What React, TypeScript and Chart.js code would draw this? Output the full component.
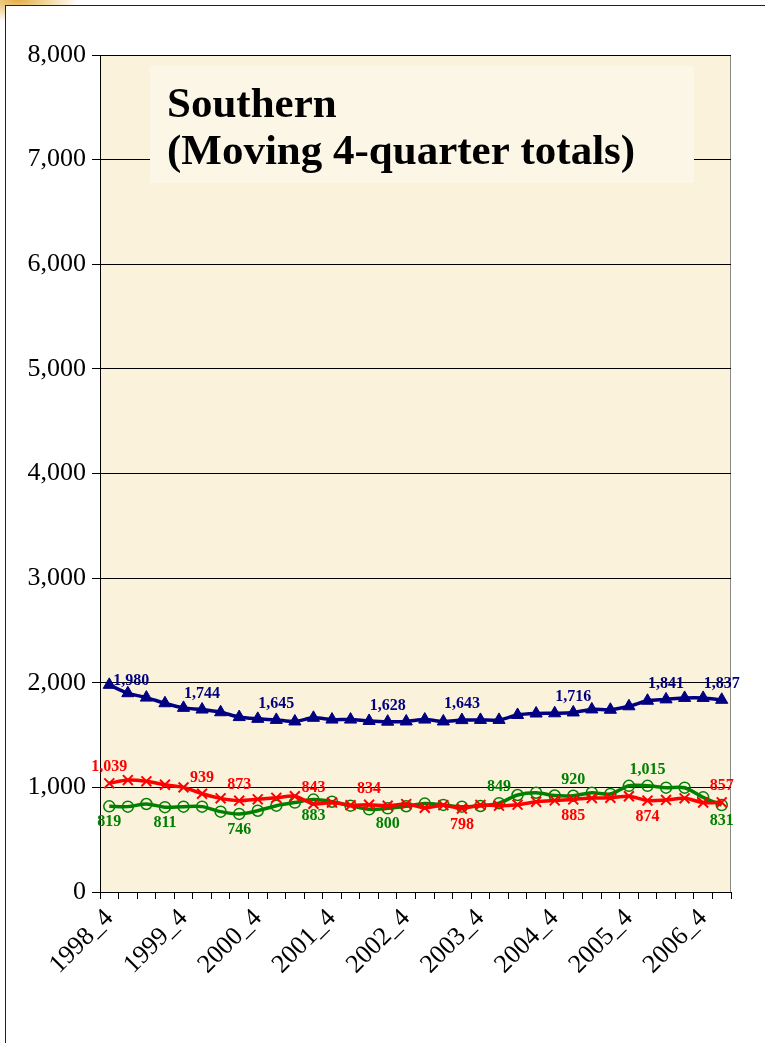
import React, { useEffect, useRef } from 'react';
import { Chart, registerables } from 'chart.js';

Chart.register(...registerables);

const SERIF = "'Liberation Serif', 'Times New Roman', serif";

const quarters = [
  '1998_4', '1999_1', '1999_2', '1999_3', '1999_4', '2000_1', '2000_2', '2000_3',
  '2000_4', '2001_1', '2001_2', '2001_3', '2001_4', '2002_1', '2002_2', '2002_3',
  '2002_4', '2003_1', '2003_2', '2003_3', '2003_4', '2004_1', '2004_2', '2004_3',
  '2004_4', '2005_1', '2005_2', '2005_3', '2005_4', '2006_1', '2006_2', '2006_3',
  '2006_4', '2007_1',
];

const blueSeries = [
  1980, 1900, 1858, 1804, 1760, 1744, 1718, 1672, 1655, 1645, 1630, 1665,
  1648, 1648, 1635, 1628, 1630, 1648, 1630, 1643, 1645, 1645, 1692, 1706,
  1708, 1716, 1745, 1742, 1775, 1828, 1841, 1855, 1855, 1837,
];

const redSeries = [
  1039, 1070, 1058, 1025, 1000, 939, 895, 873, 886, 900, 915, 843,
  855, 830, 834, 825, 840, 805, 830, 798, 832, 825, 835, 862,
  875, 885, 898, 900, 915, 874, 880, 895, 855, 857,
];

const greenSeries = [
  819, 816, 841, 811, 816, 816, 768, 746, 777, 825, 855, 883,
  863, 825, 790, 800, 820, 845, 832, 816, 822, 849, 927, 949,
  922, 920, 949, 937, 1015, 1015, 997, 997, 905, 831,
];

const blueLabelIdx = [0, 5, 9, 15, 19, 25, 30, 33];
const redLabelIdx = [0, 5, 7, 11, 14, 19, 25, 29, 33];
const greenLabelIdx = [0, 3, 7, 11, 15, 21, 25, 29, 33];

const yMin = 0;
const yMax = 8000;
const yStep = 1000;

const titleLines = ['Southern', '(Moving 4-quarter totals)'];

const fmt = (v: number) => Number(v).toLocaleString('en-US');

const backgroundPlugin = {
  id: 'parchment',
  beforeDraw(chart: any) {
    const { ctx, chartArea } = chart;
    if (!chartArea) return;
    const { left, top, right, bottom } = chartArea;
    ctx.save();
    ctx.fillStyle = '#FBF2DC';
    ctx.fillRect(left, top, right - left, bottom - top);
    ctx.strokeStyle = '#8a8a8a';
    ctx.lineWidth = 1;
    ctx.strokeRect(left + 0.5, top + 0.5, right - left - 1, bottom - top);
    ctx.restore();
  },
};

const titlePlugin = {
  id: 'titleBox',
  beforeDatasetsDraw(chart: any) {
    const { ctx, chartArea } = chart;
    const { left, top } = chartArea;
    ctx.save();
    ctx.fillStyle = '#FCF6E6';
    ctx.fillRect(left + 50, top + 11, 544, 117);
    ctx.fillStyle = '#000';
    ctx.font = 'bold 43px ' + SERIF;
    ctx.textAlign = 'left';
    ctx.textBaseline = 'alphabetic';
    ctx.fillText(titleLines[0], left + 67, top + 62);
    ctx.fillText(titleLines[1], left + 67, top + 109);
    ctx.restore();
  },
};

const labelPlugin = {
  id: 'pointValueLabels',
  afterDatasetsDraw(chart: any) {
    const ctx = chart.ctx;
    chart.data.datasets.forEach((ds: any, di: number) => {
      const meta = chart.getDatasetMeta(di);
      const idx: number[] = ds.labelIdx || [];
      const sides: string[] = ds.labelSides || [];
      ctx.save();
      ctx.font = 'bold 16px ' + SERIF;
      ctx.fillStyle = ds.borderColor;
      idx.forEach((i, k) => {
        const pt = meta.data[i];
        if (!pt) return;
        const text = fmt(ds.data[i]);
        const side = sides[k] || 'above';
        let x = pt.x;
        let y = pt.y;
        ctx.textBaseline = 'middle';
        if (side === 'right') {
          ctx.textAlign = 'left';
          x += 4;
          y -= 4;
        } else if (side === 'below') {
          ctx.textAlign = 'center';
          y += 16;
        } else {
          ctx.textAlign = 'center';
          y -= 16;
        }
        ctx.fillText(text, x, y);
      });
      ctx.restore();
    });
  },
};

export default function App() {
  const canvasRef = useRef<HTMLCanvasElement | null>(null);

  useEffect(() => {
    const prevOverflow = document.body.style.overflow;
    document.body.style.overflow = 'hidden';
    const canvas = canvasRef.current;
    if (!canvas) return;
    const chart = new Chart(canvas, {
      type: 'line',
      data: {
        labels: quarters,
        datasets: [
          {
            label: 'Blue',
            data: blueSeries,
            borderColor: '#000080',
            backgroundColor: '#000080',
            borderWidth: 3.5,
            pointStyle: 'triangle',
            pointRadius: 7,
            pointBackgroundColor: '#000080',
            pointBorderColor: '#000080',
            pointBorderWidth: 1,
            tension: 0.3,
            order: 1,
            labelIdx: blueLabelIdx,
            labelSides: ['right', 'above', 'above', 'above', 'above', 'above', 'above', 'above'],
          } as any,
          {
            label: 'Red',
            data: redSeries,
            borderColor: '#FF0000',
            backgroundColor: '#FF0000',
            borderWidth: 3.5,
            pointStyle: 'crossRot',
            pointRadius: 7,
            pointBorderColor: '#FF0000',
            pointBorderWidth: 2,
            tension: 0.3,
            order: 2,
            labelIdx: redLabelIdx,
            labelSides: ['above', 'above', 'above', 'above', 'above', 'below', 'below', 'below', 'above'],
          } as any,
          {
            label: 'Green',
            data: greenSeries,
            borderColor: '#008000',
            backgroundColor: 'rgba(0,0,0,0)',
            borderWidth: 3.5,
            pointStyle: 'circle',
            pointRadius: 5.5,
            pointBackgroundColor: 'rgba(0,0,0,0)',
            pointBorderColor: '#008000',
            pointBorderWidth: 1.5,
            tension: 0.3,
            order: 3,
            labelIdx: greenLabelIdx,
            labelSides: ['below', 'below', 'below', 'below', 'below', 'above', 'above', 'above', 'below'],
          } as any,
        ],
      },
      options: {
        responsive: false,
        animation: false,
        devicePixelRatio: 1,
        layout: { padding: { left: 0, top: 55, right: 34, bottom: 0 } },
        plugins: {
          legend: { display: false },
          tooltip: { enabled: false },
          title: { display: false },
        },
        scales: {
          x: {
            type: 'category',
            offset: true,
            grid: {
              display: true,
              drawOnChartArea: false,
              drawTicks: true,
              tickLength: 7,
              offset: true,
              color: '#000',
            },
            border: { display: true, color: '#000', width: 1 },
            ticks: {
              autoSkip: false,
              maxRotation: 45,
              minRotation: 45,
              padding: 4,
              color: '#000',
              font: { family: SERIF, size: 26 },
              callback: function (this: any, value: any) {
                const lab = quarters[value as number];
                return lab.endsWith('_4') ? lab : '';
              },
            },
            afterFit: (scale: any) => {
              scale.height = 151;
            },
          },
          y: {
            min: yMin,
            max: yMax,
            grid: {
              color: '#000',
              lineWidth: 1,
              drawTicks: true,
              tickLength: 8,
            },
            border: { display: true, color: '#000', width: 1 },
            ticks: {
              stepSize: yStep,
              padding: 6,
              color: '#000',
              font: { family: SERIF, size: 26 },
              callback: (v: any) => fmt(v),
            },
            afterFit: (scale: any) => {
              scale.width = 100;
            },
          },
        },
      },
      plugins: [backgroundPlugin, titlePlugin, labelPlugin],
    });
    return () => {
      chart.destroy();
      document.body.style.overflow = prevOverflow;
    };
  }, []);

  return (
    <div
      style={{
        position: 'fixed',
        left: 0,
        top: 0,
        width: 765,
        height: 1043,
        background: '#fff',
        overflow: 'hidden',
      }}
    >
      <div
        style={{
          position: 'absolute',
          left: 0,
          top: 0,
          width: 90,
          height: 40,
          background:
            'radial-gradient(ellipse 60px 22px at 18px 0px, rgba(226,170,60,0.95) 0%, rgba(236,196,110,0.6) 55%, rgba(255,255,255,0) 100%)',
        }}
      />
      <div
        style={{
          position: 'absolute',
          left: 5,
          top: 5,
          width: 800,
          height: 1100,
          borderLeft: '1px solid #222',
          borderTop: '1px solid #222',
          background: '#fff',
        }}
      />
      <canvas
        ref={canvasRef}
        width={765}
        height={1043}
        style={{ position: 'absolute', left: 0, top: 0, width: 765, height: 1043 }}
      />
    </div>
  );
}
